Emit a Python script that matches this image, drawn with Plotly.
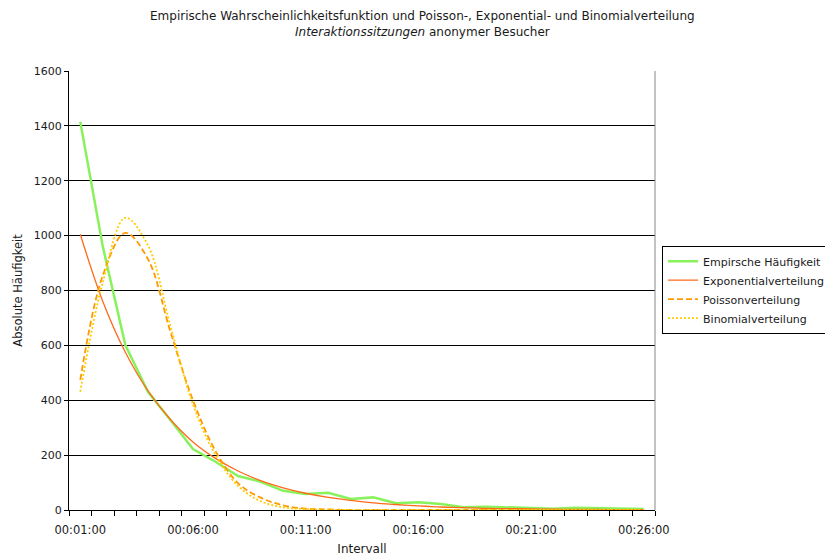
import plotly.graph_objects as go

minutes = ["00:%02d:00" % m for m in range(1, 27)]
tick_labels = ["00:01:00", "00:06:00", "00:11:00", "00:16:00", "00:21:00", "00:26:00"]

empirisch = [1415, 960, 601, 431, 328, 222, 176, 124, 103, 70, 58, 63, 40, 46, 25, 28,
             22, 10, 12, 10, 6, 5, 8, 6, 5, 4]
exponential = [1005, 760, 575, 435, 330, 248, 188, 142, 107, 81, 61, 46, 35, 26, 20, 15,
               11, 9, 6, 5, 4, 3, 2, 2, 1, 1]
poisson = [474, 855, 1010, 915, 650, 400, 215, 98, 45, 17, 5, 2, 0, 0, 0, 0,
           0, 0, 0, 0, 0, 0, 0, 0, 0, 0]
binomial = [431, 830, 1065, 965, 670, 385, 200, 88, 32, 10, 3, 1, 0, 0, 0, 0,
            0, 0, 0, 0, 0, 0, 0, 0, 0, 0]

x = list(range(1, len(minutes) + 1))
tick_pos = [minutes.index(t) + 1 for t in tick_labels]

FONT = "DejaVu Sans"
TXT = "#1a1a1a"

fig = go.Figure()
fig.add_trace(go.Scatter(x=x, y=empirisch, mode="lines", name="Empirsche Häufigkeit",
                         line=dict(color="#88F25C", width=2.5)))
fig.add_trace(go.Scatter(x=x, y=exponential, mode="lines", name="Exponentialverteilung",
                         line=dict(color="#FF6A1A", width=1.3, shape="spline")))
fig.add_trace(go.Scatter(x=x, y=poisson, mode="lines", name="Poissonverteilung",
                         line=dict(color="#FF9900", width=1.8, dash="6px,3px", shape="spline")))
fig.add_trace(go.Scatter(x=x, y=binomial, mode="lines", name="Binomialverteilung",
                         line=dict(color="#FFCC00", width=1.8, dash="2px,2px", shape="spline")))

fig.update_layout(
    width=825, height=556,
    margin=dict(l=69, r=170, t=71, b=46, autoexpand=False),
    paper_bgcolor="white", plot_bgcolor="white",
    font=dict(family=FONT, size=11.5, color=TXT),
    showlegend=True,
    legend=dict(x=1.012, y=0.602, xanchor="left", yanchor="top",
                bgcolor="white", bordercolor="black", borderwidth=1,
                font=dict(family=FONT, size=11, color=TXT),
                itemwidth=30, tracegroupgap=0),
    xaxis=dict(range=[0.5, 26.5], tickmode="array", tickvals=tick_pos, ticktext=tick_labels,
               ticks="outside", ticklen=9, tickcolor="rgba(0,0,0,0)",
               showgrid=False, zeroline=False,
               showline=True, linecolor="black", linewidth=1,
               tickfont=dict(family=FONT, size=11.5, color=TXT),
               minor=dict(tickmode="linear", tick0=0.5, dtick=1, ticks="outside",
                          ticklen=5, tickcolor="black", showgrid=False),
               title=dict(text="Intervall", standoff=10, font=dict(family=FONT, size=12, color=TXT))),
    yaxis=dict(range=[0, 1600], dtick=200, tickformat="d",
               ticks="outside", ticklen=4, tickcolor="black",
               tickfont=dict(family=FONT, size=11, color=TXT),
               showgrid=True, gridcolor="black", gridwidth=1, zeroline=False,
               showline=True, linecolor="black", linewidth=1,
               title=dict(text="Absolute Häufigkeit", standoff=8, font=dict(family=FONT, size=11.5, color=TXT))),
    shapes=[dict(type="line", xref="paper", yref="paper", x0=1, x1=1, y0=0, y1=1,
                 line=dict(color="#888", width=1))],
    annotations=[
        dict(text="Empirische Wahrscheinlichkeitsfunktion und Poisson-, Exponential- und Binomialverteilung",
             xref="paper", yref="paper", x=0.6024, y=(510 - 16) / 439, xanchor="center", yanchor="middle",
             showarrow=False, font=dict(family=FONT, size=12, color=TXT)),
        dict(text="<i>Interaktionssitzungen</i> anonymer Besucher",
             xref="paper", yref="paper", x=0.6024, y=(510 - 32) / 439, xanchor="center", yanchor="middle",
             showarrow=False, font=dict(family=FONT, size=12, color=TXT)),
    ],
)

fig.write_html("out.html")
